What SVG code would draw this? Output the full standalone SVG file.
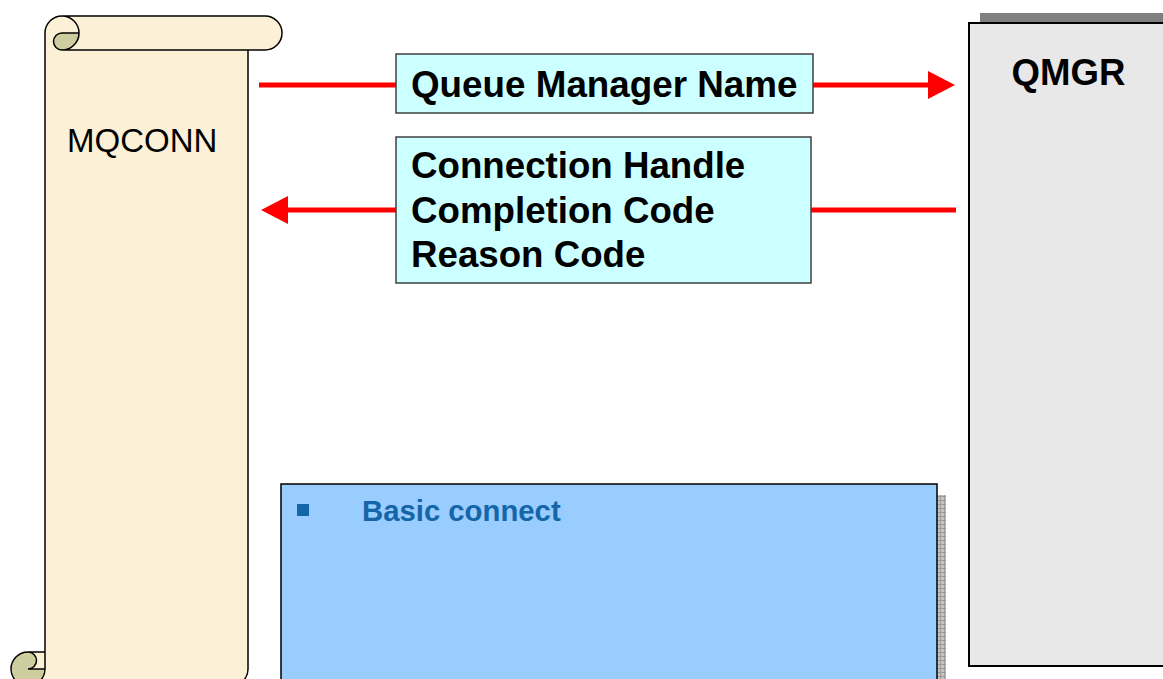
<svg xmlns="http://www.w3.org/2000/svg" width="1163" height="679" viewBox="0 0 1163 679">
  <style>
    .bold { font-family: "Liberation Sans", Arial, sans-serif; font-weight: bold; }
    .reg { font-family: "Liberation Sans", Arial, sans-serif; }
    .red { stroke: #ff0000; stroke-width: 5; fill: none; }
    .label { fill: #ccffff; stroke: #404040; stroke-width: 1.5; }
  </style>
  <defs>
    <marker id="arrow" markerUnits="userSpaceOnUse" markerWidth="28" markerHeight="28" viewBox="0 0 28 28" refX="1" refY="14" orient="auto">
      <path d="M0,0 L27,14 L0,28 Z" fill="#ff0000"/>
    </marker>
    <pattern id="grid" patternUnits="userSpaceOnUse" width="4" height="4">
      <rect width="4" height="4" fill="#c4c4c4"/>
      <path d="M0,0.5 H4 M0.5,0 V4" stroke="#9a9a9a" stroke-width="1"/>
    </pattern>
  </defs>
  <rect width="1163" height="679" fill="#ffffff"/>

  <g id="connectors">
    <line class="red" x1="259" y1="85" x2="929" y2="85" marker-end="url(#arrow)"/>
    <line class="red" x1="956" y1="210" x2="287" y2="210" marker-end="url(#arrow)"/>
  </g>

  <g id="mqconn">
    <path d="M28,686 A17,17 0 0 0 45,669 L28,669 A8.5,8.5 0 0 1 28,652 L45,652 L45,33 A17,17 0 0 1 62,16 L265,16 A17,17 0 0 1 265,50 L248,50 L248,669 A17,17 0 0 1 231,686 Z" fill="#fcf0d6"/>
    <path d="M79,33 A17,17 0 0 1 62,50 A8.5,8.5 0 0 1 62,33 Z M45,669 A17,17 0 1 1 28,652 A8.5,8.5 0 0 1 28,669 Z" fill="#cdcd9f"/>
    <path d="M45,652 L45,33 A17,17 0 0 1 62,16 L265,16 A17,17 0 0 1 265,50 L248,50 L248,669 A17,17 0 0 1 231,686 L28,686 A17,17 0 0 1 28,652 Z M62,16 A17,17 0 0 1 62,50 A8.5,8.5 0 0 1 62,33 L79,33 M248,50 L62,50 M28,652 A8.5,8.5 0 0 1 28,669 L45,669 M28,686 A17,17 0 0 0 45,669 L45,652" fill="none" stroke="#000000" stroke-width="1.5"/>
    <text class="reg" x="67" y="152" font-size="33" fill="#000000">MQCONN</text>
  </g>

  <g id="qmgr">
    <rect x="980" y="13" width="300" height="643" fill="#808080"/>
    <rect x="969" y="23" width="300" height="643" fill="#e8e8e8" stroke="#000000" stroke-width="2"/>
    <text class="bold" x="1068.5" y="85" font-size="36.6" text-anchor="middle" fill="#000000">QMGR</text>
  </g>

  <g id="box-queue-manager-name">
    <rect class="label" x="396" y="54" width="417" height="59"/>
    <text class="bold" x="411" y="97" font-size="36.8" fill="#000000">Queue Manager Name</text>
  </g>

  <g id="box-return-values">
    <rect class="label" x="396" y="137" width="415" height="146"/>
    <text class="bold" font-size="36.7" fill="#000000">
      <tspan x="411" y="178">Connection Handle</tspan>
      <tspan x="411" y="223">Completion Code</tspan>
      <tspan x="411" y="267">Reason Code</tspan>
    </text>
  </g>

  <g id="note-basic-connect">
    <rect x="290" y="495" width="656" height="200" fill="url(#grid)"/>
    <rect x="281" y="484" width="656" height="210" fill="#99ccff" stroke="#000000" stroke-width="1.5"/>
    <rect x="297" y="504" width="12" height="12" fill="#1565a9"/>
    <text class="bold" x="362" y="521" font-size="29.3" fill="#1565a9">Basic connect</text>
  </g>
</svg>
